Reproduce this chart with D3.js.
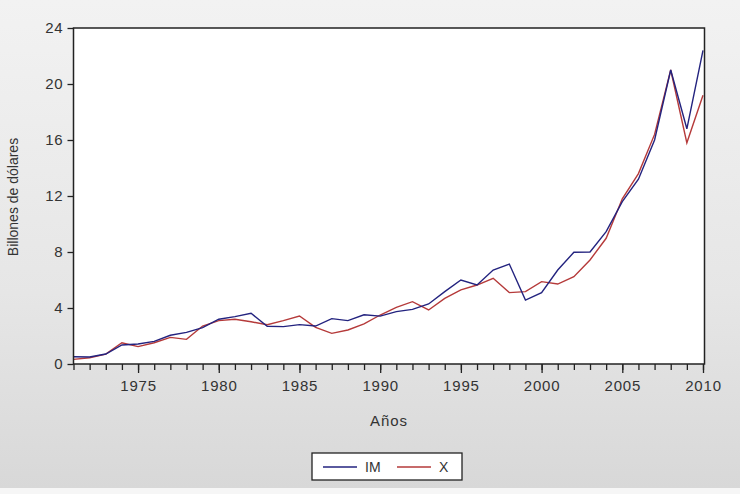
<!DOCTYPE html>
<html>
<head>
<meta charset="utf-8">
<script src="https://cdn.jsdelivr.net/npm/d3@7"></script>
<style>
    body { margin: 0; }
    svg { display: block; font-family: Arial, "Liberation Sans", sans-serif; }
</style>
</head>
<body>
<svg id="chart" width="740" height="494"></svg>
<script>
// data (billones de dólares)
const years = d3.range(1971, 2011);
const imValues = [
    0.52, 0.50, 0.71, 1.36, 1.43, 1.62, 2.05, 2.26, 2.60, 3.20,
    3.38, 3.62, 2.70, 2.67, 2.81, 2.71, 3.24, 3.10, 3.52, 3.42,
    3.74, 3.90, 4.29, 5.17, 6.00, 5.64, 6.71, 7.14, 4.57, 5.10,
    6.71, 7.98, 8.00, 9.45, 11.6, 13.2, 16.0, 21.0, 16.8, 22.4
];
const xValues = [
    0.33, 0.45, 0.71, 1.52, 1.24, 1.52, 1.90, 1.76, 2.71, 3.10,
    3.20, 3.02, 2.80, 3.10, 3.43, 2.62, 2.19, 2.43, 2.86, 3.50,
    4.05, 4.45, 3.86, 4.69, 5.29, 5.64, 6.12, 5.10, 5.17, 5.88,
    5.71, 6.24, 7.43, 8.98, 11.8, 13.6, 16.4, 21.0, 15.8, 19.2
];
const yTicks = [0, 4, 8, 12, 16, 20, 24];
const xMajorTicks = [1975, 1980, 1985, 1990, 1995, 2000, 2005, 2010];
const seriesNames = ['IM', 'X'];

const margin = {top: 28, right: 36, bottom: 130, left: 73.5};
const width = 740;
const height = 494;
const innerW = 703 - margin.left;
const innerH = 364 - margin.top;
const colors = {IM: '#23237f', X: '#b53a3a'};

const svg = d3.select('#chart');

// gray gradient background
const defs = svg.append('defs');
const grad = defs.append('linearGradient')
    .attr('id', 'bg')
    .attr('x1', 0).attr('y1', 0)
    .attr('x2', 0).attr('y2', 1);
grad.append('stop').attr('offset', '0%').attr('stop-color', '#f2f2f2');
grad.append('stop').attr('offset', '60%').attr('stop-color', '#e6e6e6');
grad.append('stop').attr('offset', '100%').attr('stop-color', '#d8d8d8');

svg.append('rect')
    .attr('width', width)
    .attr('height', 488)
    .attr('fill', 'url(#bg)');
svg.append('rect')
    .attr('y', 488)
    .attr('width', width)
    .attr('height', height - 488)
    .attr('fill', '#f6f6f6');

const g = svg.append('g')
    .attr('transform', `translate(${margin.left},${margin.top})`);

const x = d3.scaleLinear().domain([1971, 2010]).range([0, innerW]);
const y = d3.scaleLinear().domain([0, 24]).range([innerH, 0]);

g.append('rect')
    .attr('width', innerW + 1.5)
    .attr('height', innerH)
    .attr('fill', '#ffffff');

// lines
const line = d3.line()
    .x((d, i) => x(years[i]))
    .y(d => y(d));

[['X', xValues], ['IM', imValues]].forEach(([name, vals]) => {
    g.append('path')
        .datum(vals)
        .attr('fill', 'none')
        .attr('stroke', colors[name])
        .attr('stroke-width', 1.4)
        .attr('d', line);
});

// frame
g.append('rect')
    .attr('width', innerW + 1.5)
    .attr('height', innerH)
    .attr('fill', 'none')
    .attr('stroke', '#222')
    .attr('stroke-width', 1.5);

// y axis
const yAxis = g.append('g')
    .call(d3.axisLeft(y).tickValues(yTicks).tickSize(6).tickPadding(4));
yAxis.select('.domain').remove();
yAxis.selectAll('line').attr('stroke', '#222').attr('stroke-width', 1.3);
yAxis.selectAll('text')
    .attr('fill', '#333')
    .style('font-size', '15px')
    .style('letter-spacing', '0.8px');

// x axis: minor ticks every year, major every five
const xMinor = g.append('g')
    .attr('transform', `translate(0,${innerH})`)
    .call(d3.axisBottom(x).tickValues(years).tickSize(6).tickFormat(''));
xMinor.select('.domain').remove();
xMinor.selectAll('line').attr('stroke', '#222').attr('stroke-width', 1.3);

const xMajor = g.append('g')
    .attr('transform', `translate(0,${innerH})`)
    .call(d3.axisBottom(x).tickValues(xMajorTicks).tickSize(9).tickPadding(7).tickFormat(d3.format('d')));
xMajor.select('.domain').remove();
xMajor.selectAll('line').attr('stroke', '#222').attr('stroke-width', 1.3);
xMajor.selectAll('text')
    .attr('fill', '#333')
    .style('font-size', '15px')
    .style('letter-spacing', '0.8px');

// axis titles
svg.append('text')
    .attr('x', 389)
    .attr('y', 426)
    .attr('text-anchor', 'middle')
    .attr('fill', '#333')
    .style('font-size', '15px')
    .style('letter-spacing', '1px')
    .text('Años');

svg.append('text')
    .attr('transform', 'translate(18,197) rotate(-90)')
    .attr('text-anchor', 'middle')
    .attr('fill', '#333')
    .style('font-size', '14px')
    .text('Billones de dólares');

// legend
const legend = svg.append('g').attr('transform', 'translate(312,453)');
legend.append('rect')
    .attr('width', 150)
    .attr('height', 27)
    .attr('fill', '#ffffff')
    .attr('stroke', '#222')
    .attr('stroke-width', 1.3);

const legendX = d3.scalePoint().domain(seriesNames).range([11, 85]);
const item = legend.selectAll('g.item')
    .data(seriesNames)
    .enter()
    .append('g')
    .attr('class', 'item')
    .attr('transform', d => `translate(${legendX(d)},14)`);
item.append('line')
    .attr('x1', 0).attr('x2', 34)
    .attr('stroke', d => colors[d])
    .attr('stroke-width', 1.4);
item.append('text')
    .attr('x', 42)
    .attr('dy', '0.35em')
    .attr('fill', '#333')
    .style('font-size', '14px')
    .text(d => d);
</script>
</body>
</html>
